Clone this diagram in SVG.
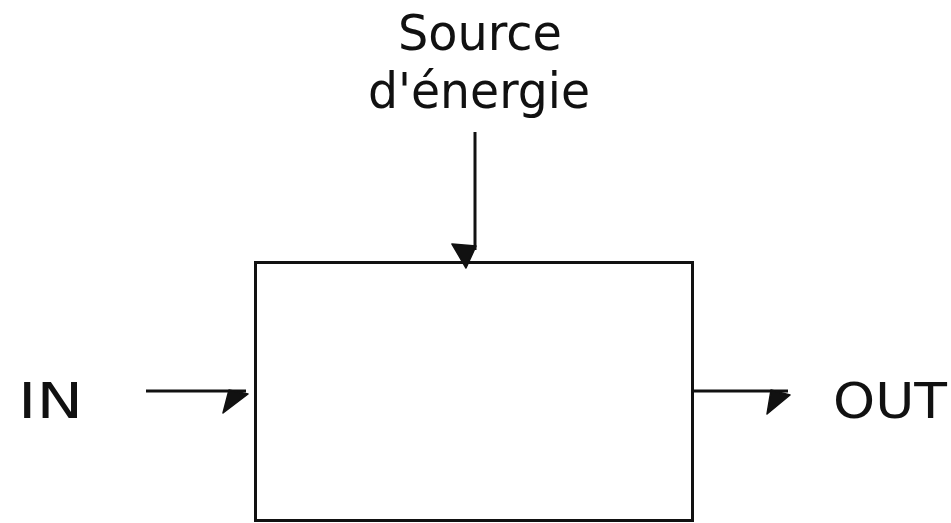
<svg xmlns="http://www.w3.org/2000/svg" width="951" height="523" viewBox="0 0 951 523">
  <style>
    .lbl { font-family: "DejaVu Sans", "Liberation Sans", sans-serif; font-size: 50px; fill: #111; }
    .wire { stroke: #111; stroke-width: 3; fill: none; }
    .head { fill: #111; stroke: #111; stroke-width: 1.5; stroke-linejoin: round; }
    .box { fill: #fff; stroke: #111; stroke-width: 3; }
  </style>
  <rect width="951" height="523" fill="#fff"/>

  <!-- process block -->
  <g id="block">
    <rect class="box" x="255.5" y="262.5" width="437" height="258"/>
  </g>

  <!-- labels -->
  <g id="source">
    <text class="lbl" x="398" y="50" textLength="164" lengthAdjust="spacingAndGlyphs">Source</text>
    <text class="lbl" x="368" y="108" textLength="222" lengthAdjust="spacingAndGlyphs">d'énergie</text>
  </g>
  <g id="in">
    <text class="lbl" x="18" y="418" textLength="65" lengthAdjust="spacingAndGlyphs">IN</text>
  </g>
  <g id="out">
    <text class="lbl" x="833" y="418" textLength="114" lengthAdjust="spacingAndGlyphs">OUT</text>
  </g>

  <!-- connectors with half arrowheads -->
  <g id="connectors">
    <line class="wire" x1="475" y1="132" x2="475" y2="250"/>
    <polygon class="head" points="452,244 476,246 466,268"/>

    <line class="wire" x1="146" y1="391" x2="246" y2="391"/>
    <polygon class="head" points="229,390 248,394 223,413"/>

    <line class="wire" x1="692" y1="391" x2="788" y2="391"/>
    <polygon class="head" points="771,390 790,395 767,414"/>
  </g>
</svg>
